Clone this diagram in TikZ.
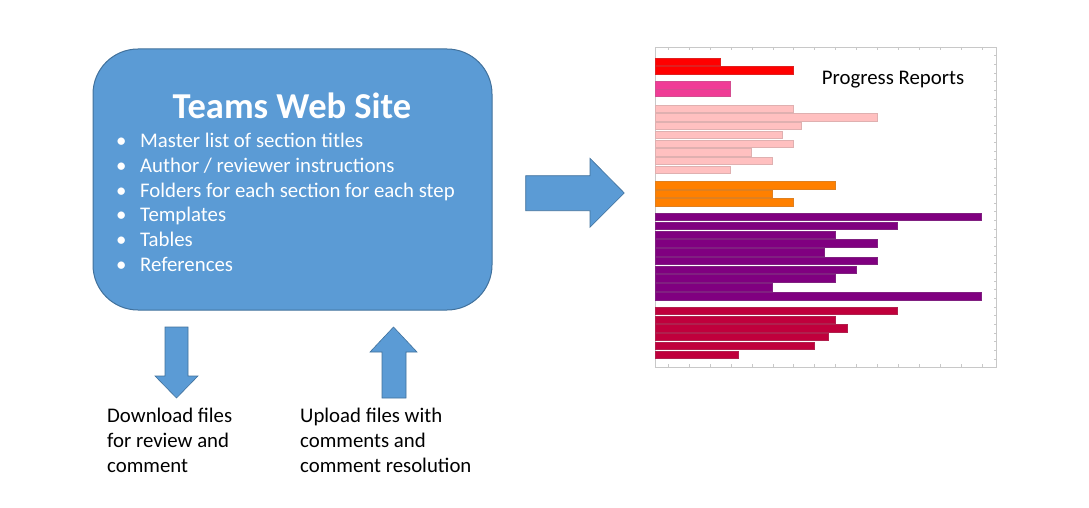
\documentclass[tikz,border=0pt]{standalone}
\usepackage{fontspec}
\setmainfont{Carlito}
\usepackage{xcolor}
\usetikzlibrary{positioning,calc}
\definecolor{siteblue}{RGB}{91,155,213}
\definecolor{siteedge}{RGB}{65,113,156}
\definecolor{framegray}{RGB}{200,200,200}
\definecolor{barred}{RGB}{255,0,0}
\definecolor{barmagenta}{RGB}{240,60,150}
\definecolor{barpink}{RGB}{255,192,192}
\definecolor{barorange}{RGB}{255,128,0}
\definecolor{barpurple}{RGB}{128,0,128}
\definecolor{barcrimson}{RGB}{192,0,60}

\begin{document}
\begin{tikzpicture}[x=1pt,y=-1pt,site/.style={draw=siteedge,fill=siteblue,line width=1pt,rounded corners=45pt,minimum width=399pt,minimum height=261pt},title/.style={text=white,font=\fontsize{36.5}{40}\selectfont\bfseries},item/.style={text=white,anchor=west,inner sep=0pt,text height=14pt,text depth=4pt,font=\fontsize{20.8}{25}\selectfont},note/.style={anchor=north west,align=left,inner sep=0pt,font=\fontsize{20.8}{25}\selectfont},blockarr/.style={fill=siteblue,draw=siteedge,line width=0.6pt},bar/.style={line width=0.6pt}]
\useasboundingbox (0,0) rectangle (1089,508);
% web site box
\node[site](site) at (292.5,179.5){}; \node[title](sitetitle) at (292,106){Teams Web Site};
\foreach \t [count=\i] in {Master list of section titles,Author / reviewer instructions,Folders for each section for each step,Templates,Tables,References}
  {\node[item](item\i) at (140,{142.5+(\i-1)*24.8}){\t}; \node[item](dot\i) at (116,{142.5+(\i-1)*24.8}){\textbullet};}
% block arrows
\draw[blockarr] (165,327) -- (188,327) -- (188,376) -- (198,376) -- (176.5,398) -- (155,376) -- (165,376) -- cycle;
\draw[blockarr] (382,398) -- (406,398) -- (406,352) -- (417,352) -- (393.5,327) -- (370,352) -- (382,352) -- cycle;
\draw[blockarr] (525.7,175.7) -- (590,175.7) -- (590,158.3) -- (624.3,193) -- (590,227.3) -- (590,210.7) -- (525.7,210.7) -- cycle;
\node[note](down) at (107,408){Download files\\for review and\\comment};
\node[note](up) at (300,408){Upload files with\\comments and\\comment resolution};
% progress chart
\draw[framegray,line width=0.8pt] (655,47) rectangle (996.7,367);
\foreach \n in {0,...,15} {\draw[framegray,line width=0.6pt] ({668.3+\n*20.9},47) -- ++(0,3); \draw[framegray,line width=0.6pt] ({668.3+\n*20.9},367) -- ++(0,-3);}
\foreach \n in {1,...,36} \draw[framegray,line width=0.6pt] (996.7,{47+\n*8.67}) -- ++(-3,0);
\foreach \yt/\xe/\c in {58.3/720/barred,66.7/793/barred,81.7/730/barmagenta,89.6/730/barmagenta,
  105/793/barpink,113.7/877/barpink,122.3/801/barpink,131/782.7/barpink,140/793/barpink,148.7/751/barpink,157.3/772/barpink,166/730/barpink,
  181.7/835/barorange,190/772/barorange,198.7/793/barorange,
  213.3/981.3/barpurple,222.3/897.7/barpurple,231/835/barpurple,239.7/877/barpurple,248.7/824.3/barpurple,257.3/877/barpurple,266/856/barpurple,274.7/835/barpurple,283.7/772/barpurple,292.7/981.3/barpurple,
  307.3/897.7/barcrimson,316/835/barcrimson,324.7/847.7/barcrimson,333.3/828.7/barcrimson,342/814/barcrimson,351/738.7/barcrimson}
  \draw[bar,fill=\c,draw=\c!75!gray] (655,\yt) rectangle (\xe,\yt+7.2);
\node[font=\fontsize{20.8}{24}\selectfont](charttitle) at (893,80){Progress Reports};
\end{tikzpicture}
\end{document}
